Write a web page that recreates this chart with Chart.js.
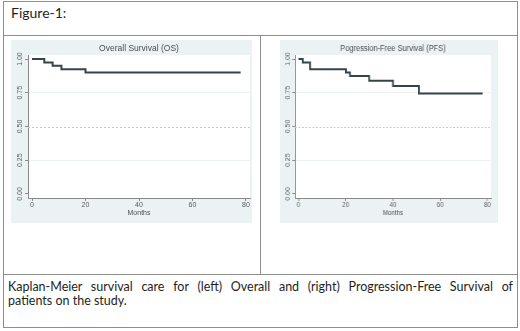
<!DOCTYPE html>
<html><head><meta charset="utf-8">
<script src="https://cdn.jsdelivr.net/npm/chart.js@4/dist/chart.umd.min.js"></script>
<style>
html,body{margin:0;padding:0;background:#fff;}
body{width:520px;height:331px;position:relative;overflow:hidden;font-family:Lato,"Open Sans",sans-serif;color:#1e1e1e;}
.ln{position:absolute;background:#8e8e8e;}
.panel{position:absolute;top:40px;height:183px;background:#eaf2f3;overflow:visible;}
#figlbl{position:absolute;left:11px;top:4px;font-size:14px;line-height:17px;}
#cap1{position:absolute;left:8px;top:280px;width:505px;font-size:12.5px;line-height:14px;text-align:justify;text-align-last:justify;}
#cap2{position:absolute;left:8px;top:294px;width:505px;font-size:12.5px;line-height:14px;}
</style></head>
<body>
<div class="ln" style="left:3px;top:1px;width:515px;height:1px"></div>
<div class="ln" style="left:3px;top:327px;width:515px;height:1px"></div>
<div class="ln" style="left:3px;top:1px;width:1px;height:327px"></div>
<div class="ln" style="left:517px;top:1px;width:1px;height:327px"></div>
<div class="ln" style="left:3px;top:35px;width:515px;height:1px"></div>
<div class="ln" style="left:3px;top:274px;width:515px;height:1px"></div>
<div class="ln" style="left:260px;top:35px;width:1px;height:240px"></div>
<div id="figlbl">Figure-1:</div>
<div class="panel" style="left:11px;width:241px"><canvas id="os" width="241" height="183"></canvas></div>
<div class="panel" style="left:280px;width:218px;"><div style="width:248px;height:183px;transform:scaleX(0.879);transform-origin:0 0;"><canvas id="pfs" width="248" height="183"></canvas></div></div>
<div id="cap1">Kaplan-Meier survival care for (left) Overall and (right) Progression-Free Survival of</div>
<div id="cap2">patients on the study.</div>
<script>
// ---- data ----
const osMonths    = [0, 4.6, 7.7, 11, 20, 78];
const osSurvival  = [1.00, 0.975, 0.95, 0.925, 0.90, 0.90];
const pfsMonths   = [0, 1.8, 4.9, 20.1, 21.8, 29.9, 40, 51, 78];
const pfsSurvival = [1.00, 0.975, 0.925, 0.90, 0.875, 0.84, 0.80, 0.745, 0.745];
const xTicks = [0, 20, 40, 60, 80];
const yTicks = [0, 0.25, 0.5, 0.75, 1];
const yTickLabels = ['0.00', '0.25', '0.50', '0.75', '1.00'];
const osTitle = 'Overall Survival (OS)';
const pfsTitle = 'Pogression-Free Survival (PFS)';
const xAxisTitle = 'Months';

const AXIS = '#8a8a8a', TICKTXT = '#5a5a5a', LINE = '#34444c';

const kmPlugin = {
  id: 'km',
  beforeDraw(chart) {
    const {ctx, chartArea: a} = chart;
    ctx.save();
    ctx.fillStyle = '#ffffff';
    ctx.fillRect(a.left, a.top, a.right - a.left, a.bottom - a.top);
    ctx.restore();
  },
  beforeDatasetsDraw(chart) {
    const {ctx, chartArea: a, scales: {y}} = chart;
    const py = Math.round(y.getPixelForValue(0.5)) + 0.5;
    ctx.save();
    ctx.strokeStyle = '#c8c8c8';
    ctx.lineWidth = 1;
    ctx.setLineDash([2, 2]);
    ctx.beginPath(); ctx.moveTo(a.left, py); ctx.lineTo(a.right, py); ctx.stroke();
    ctx.restore();
  },
  afterDraw(chart) {
    const {ctx, chartArea: a, scales: {y}} = chart;
    ctx.save();
    ctx.font = '7px "Liberation Sans", Arial, sans-serif';
    ctx.fillStyle = TICKTXT;
    ctx.textAlign = 'center';
    ctx.textBaseline = 'middle';
    yTicks.forEach((v, i) => {
      ctx.save();
      ctx.translate(a.left - 8, y.getPixelForValue(v));
      ctx.rotate(-Math.PI / 2);
      ctx.fillText(yTickLabels[i], 0, 0);
      ctx.restore();
    });
    ctx.restore();
  }
};

function makeKM(id, months, surv, title, padRight) {
  return new Chart(document.getElementById(id), {
    type: 'line',
    data: {
      datasets: [{
        data: months.map((m, i) => ({x: m, y: surv[i]})),
        stepped: true,
        borderColor: LINE,
        borderWidth: 2,
        pointRadius: 0,
        fill: false
      }]
    },
    options: {
      responsive: false,
      animation: false,
      devicePixelRatio: 1,
      layout: {padding: {left: 17, right: padRight, top: 0, bottom: 0}},
      plugins: {
        legend: {display: false},
        tooltip: {enabled: false},
        title: {
          display: true, text: title, color: '#4d4d4d',
          font: {family: '"Liberation Sans", Arial, sans-serif', size: 8.5, weight: 'normal', lineHeight: 1.2},
          padding: {top: 4, bottom: 0.8}
        }
      },
      scales: {
        x: {
          type: 'linear', min: -1.5, max: 81.5,
          afterBuildTicks: s => { s.ticks = xTicks.map(v => ({value: v})); },
          afterFit: s => { s.height = 25; },
          grid: {drawOnChartArea: false, drawTicks: true, tickLength: 3, tickColor: AXIS},
          border: {display: true, color: AXIS, width: 1},
          ticks: {color: TICKTXT, padding: 0, font: {family: '"Liberation Sans", Arial, sans-serif', size: 7}, maxRotation: 0},
          title: {display: true, text: xAxisTitle, color: '#4d4d4d', padding: {top: 0, bottom: 5.3},
                  font: {family: '"Liberation Sans", Arial, sans-serif', size: 7}}
        },
        y: {
          type: 'linear', min: -0.03, max: 1.03,
          afterBuildTicks: s => { s.ticks = yTicks.map(v => ({value: v})); },
          afterFit: s => { s.width = 0; },
          grid: {
            drawOnChartArea: true, drawTicks: true, tickLength: 3, tickColor: AXIS,
            color: c => (c.tick && (c.tick.value === 0.25 || c.tick.value === 0.75)) ? 'rgba(200,214,218,0.35)' : 'rgba(0,0,0,0)'
          },
          border: {display: true, color: AXIS, width: 1},
          ticks: {display: false}
        }
      }
    },
    plugins: [kmPlugin]
  });
}

makeKM('os', osMonths, osSurvival, osTitle, 2);
makeKM('pfs', pfsMonths, pfsSurvival, pfsTitle, 8);
</script>
</body></html>
